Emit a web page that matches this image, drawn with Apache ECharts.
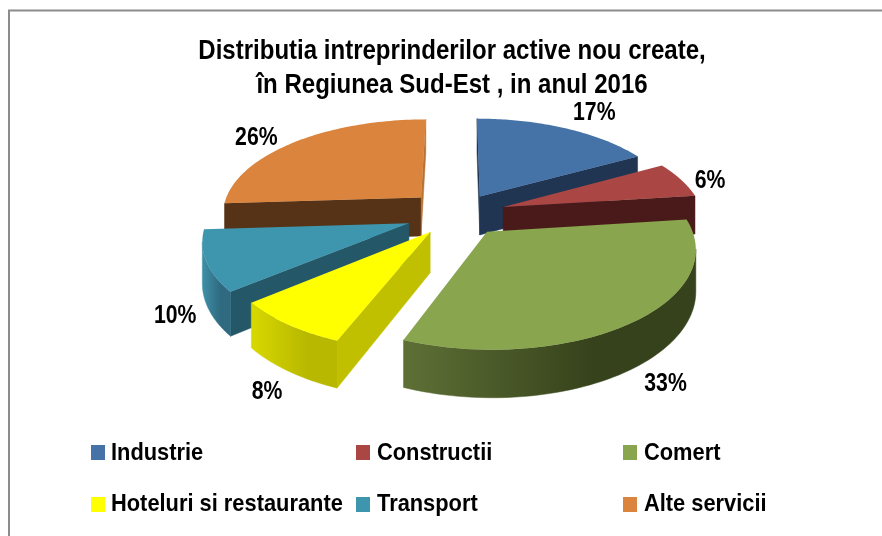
<!DOCTYPE html>
<html><head><meta charset="utf-8">
<style>html,body{margin:0;padding:0;background:#fff}#c{width:882px;height:536px}</style>
<script src="https://cdn.jsdelivr.net/npm/echarts@6/dist/echarts.min.js"></script>
</head><body><div id="c"></div>
<script>
const categories = ['Industrie','Constructii','Comert','Hoteluri si restaurante','Transport','Alte servicii'];
const values = [17, 6, 33, 8, 10, 26];
const titleLines = ['Distributia intreprinderilor active nou create,','în Regiunea Sud-Est , in anul 2016'];

// styling
const FONT = '"Liberation Sans",Arial,sans-serif';
const topColors = ['#4572a7','#aa4643','#89a54e','#ffff00','#3d96ae','#db843d'];
const startWall = ['#1f3552','#4a1a1a','#3b4a1e','#c0c000','#245868','#563216'];
const endWall   = ['#1f3552','#4a1a1a','#3b4a1e','#c0c000','#245868','#b87232'];
const arcWall = [['#1f3552','#1f3552'],['#4a1a1a','#4a1a1a'],['#5e7036','#36421b'],['#d8d800','#b8b800'],['#3f90a8','#2f6a80'],['#563216','#563216']];
const explode = [0.22,0.24,0.23,0.23,0.26,0.26];
const labelShift = [[29,-15],[29,1],[31,63],[-21,68],[-31,55],[-39,-4]];
const drawZ = [2,3,7,6,5,1];
const legendPos = [[86,440],[351,440],[618,440],[86,492],[351,492],[618,492]];
const legendTextX = [111,377,644,111,377,644];
const legendTextY = [453,453,453,504,504,504];
const CX=458, CY=214, RX=200, RY=94.5, P=0.15, DEPTH=39.5, STEPS=70;

const total = values.reduce((a,b)=>a+b,0);
const project = (X,Y,h) => { const w=1+P*Y; return [CX+RX*X/w, CY-RY*Y/w+(h||0)/w]; };

function makeRender(i){
  return function(params, api){
    const v = api.value(0);
    let before = 0; for(let k=0;k<i;k++) before += values[k];
    const t0 = before/total*2*Math.PI, t1 = (before+v)/total*2*Math.PI, tm=(t0+t1)/2;
    const ox = explode[i]*Math.sin(tm), oy = explode[i]*Math.cos(tm);
    const at = (t,r,h)=>project(ox+r*Math.sin(t), oy+r*Math.cos(t), h);
    const arc=[]; for(let s=0;s<=STEPS;s++) arc.push(t0+(t1-t0)*s/STEPS);
    const topPts=[at(0,0,0)].concat(arc.map(t=>at(t,1,0)));
    const kids=[];
    const wall=(a,b,fill)=>kids.push({type:'polygon',silent:true,shape:{points:a.concat(b.slice().reverse())},style:{fill:fill,stroke:fill,lineWidth:0.5}});
    const apexT=at(0,0,0), apexB=at(0,0,DEPTH);
    const s0=at(t0,1,0), s1=at(t1,1,0);
    if(s0[0]<apexT[0]) wall([apexT,s0],[apexB,at(t0,1,DEPTH)],startWall[i]);
    if(apexT[0]<s1[0]) wall([s1,apexT],[at(t1,1,DEPTH),apexB],endWall[i]);
    let upper=[],lower=[];
    for(let s=0;s<arc.length-1;s++){
      const a=at(arc[s],1,0), b=at(arc[s+1],1,0);
      if(b[0]<a[0]){
        if(!upper.length){upper.push(a);lower.push(at(arc[s],1,DEPTH));}
        upper.push(b);lower.push(at(arc[s+1],1,DEPTH));
      }
    }
    if(upper.length){
      const g=new echarts.graphic.LinearGradient(0,0,1,0,[{offset:0,color:arcWall[i][0]},{offset:0.65,color:arcWall[i][1]},{offset:1,color:arcWall[i][1]}]);
      wall(upper,lower,g);
    }
    kids.push({type:'polygon',silent:true,shape:{points:topPts},style:{fill:topColors[i]}});
    const mid=at(tm,1,0);
    kids.push({type:'text',silent:true,x:mid[0]+labelShift[i][0],y:mid[1]+labelShift[i][1],scaleX:0.85,
      style:{text:v+'%',align:'center',verticalAlign:'middle',fill:'#000',font:'bold 25px '+FONT}});
    return {type:'group',children:kids};
  };
}

const textEl=(t,x,y,sx,size,align)=>({type:'text',silent:true,x:x,y:y,scaleX:sx,
  style:{text:t,align:align,verticalAlign:'middle',fill:'#000',font:'bold '+size+'px '+FONT}});

const chart = echarts.init(document.getElementById('c'),null,{renderer:'canvas'});
chart.setOption({
  animation:false,
  backgroundColor:'#fff',
  graphic:[{type:'rect',silent:true,z:-1,shape:{x:9,y:10.5,width:1000,height:1000},style:{fill:'none',stroke:'#8c8c8c',lineWidth:2}}]
    .concat(titleLines.map((t,i)=>textEl(t,452,52+i*34,0.89,27,'center')))
    .concat(categories.map((c,i)=>textEl(c,legendTextX[i],legendTextY[i],0.91,24,'left'))),
  legend:categories.map((c,i)=>({data:[c],left:legendPos[i][0],top:legendPos[i][1],orient:'horizontal',icon:'rect',itemWidth:14,itemHeight:15,itemGap:0,selectedMode:false,
    formatter:()=>'',textStyle:{fontSize:15}})),
  series:categories.map((c,i)=>({type:'custom',name:c,coordinateSystem:'none',z:drawZ[i],clip:false,silent:true,
    itemStyle:{color:topColors[i]},data:[[values[i]]],renderItem:makeRender(i)}))
});
</script></body></html>
